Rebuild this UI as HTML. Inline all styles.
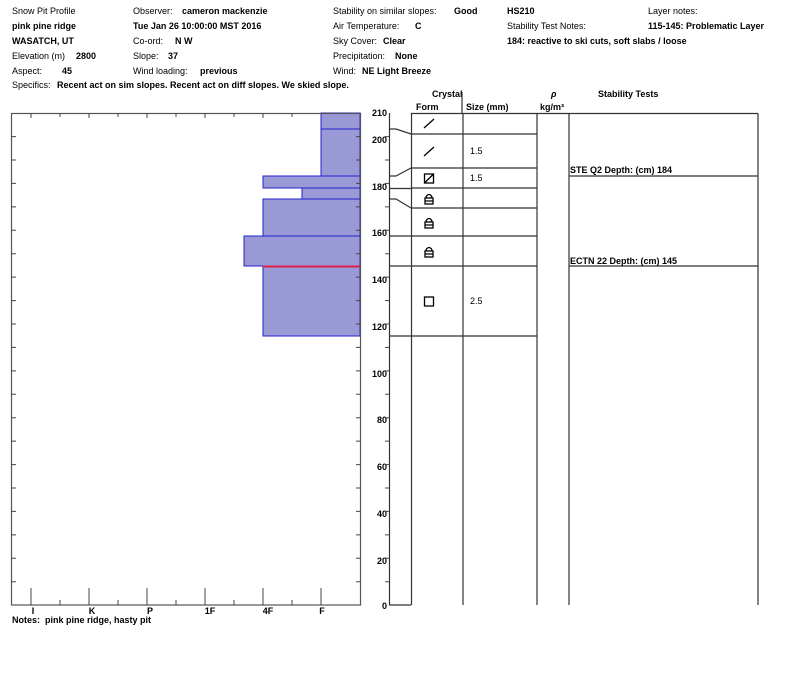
<!DOCTYPE html>
<html><head><meta charset="utf-8"><style>
body{margin:0;background:#fff;}
svg text{font-family:"Liberation Sans",sans-serif;font-size:9px;fill:#000;}
.b{font-weight:bold;}
</style></head><body>
<svg width="800" height="676" viewBox="0 0 800 676" xmlns="http://www.w3.org/2000/svg">
<!-- header -->
<text x="12" y="14" font-size="10">Snow Pit Profile</text>
<text x="12" y="29" class="b">pink pine ridge</text>
<text x="12" y="44" class="b">WASATCH, UT</text>
<text x="12" y="59">Elevation (m)</text><text x="76" y="59" class="b">2800</text>
<text x="12" y="74">Aspect:</text><text x="62" y="74" class="b">45</text>
<text x="12" y="88">Specifics:</text><text x="57" y="88" class="b">Recent act on sim slopes. Recent act on diff slopes. We skied slope.</text>
<text x="133" y="14">Observer:</text><text x="182" y="14" class="b">cameron mackenzie</text>
<text x="133" y="29" class="b">Tue Jan 26 10:00:00 MST 2016</text>
<text x="133" y="44">Co-ord:</text><text x="175" y="44" class="b">N  W</text>
<text x="133" y="59">Slope:</text><text x="168" y="59" class="b">37</text>
<text x="133" y="74">Wind loading:</text><text x="200" y="74" class="b">previous</text>
<text x="333" y="14">Stability on similar slopes:</text><text x="454" y="14" class="b">Good</text>
<text x="333" y="29">Air Temperature:</text><text x="415" y="29" class="b">C</text>
<text x="333" y="44">Sky Cover:</text><text x="383" y="44" class="b">Clear</text>
<text x="333" y="59">Precipitation:</text><text x="395" y="59" class="b">None</text>
<text x="333" y="74">Wind:</text><text x="362" y="74" class="b">NE Light Breeze</text>
<text x="507" y="14" class="b">HS210</text>
<text x="507" y="29">Stability Test Notes:</text>
<text x="507" y="44" class="b">184: reactive to ski cuts, soft slabs / loose</text>
<text x="648" y="14">Layer notes:</text>
<text x="648" y="29" class="b">115-145: Problematic Layer</text>

<!-- left chart -->
<g fill="#9999d6" stroke="#2222cc" stroke-width="1">
<rect x="321" y="113" width="39" height="16"/>
<rect x="321" y="129" width="39" height="47"/>
<rect x="263" y="176" width="97" height="12"/>
<rect x="302" y="188" width="58" height="11"/>
<rect x="263" y="199" width="97" height="37"/>
<rect x="244" y="236" width="116" height="30"/>
<rect x="263" y="266" width="97" height="70"/>
</g>
<line x1="263" y1="266.5" x2="360" y2="266.5" stroke="#e0204a" stroke-width="2"/>
<rect x="11.5" y="113.5" width="349" height="491.5" fill="none" stroke="#555" stroke-width="1.2"/>
<g stroke="#444" stroke-width="1">
<path d="M31 113v5M89 113v5M147 113v5M205 113v5M263 113v5M60 113v4M118 113v4M176 113v4M234 113v4M292 113v4"/>
<path d="M31 588v17M89 588v17M147 588v17M205 588v17M263 588v17M321 588v17M60 600v5M118 600v5M176 600v5M234 600v5M292 600v5"/>
<path d="M11 136.6h5M11 160h5M11 183.4h5M11 206.9h5M11 230.3h5M11 253.7h5M11 277.1h5M11 300.6h5M11 324h5M11 347.4h5M11 370.9h5M11 394.3h5M11 417.7h5M11 441.1h5M11 464.6h5M11 488h5M11 511.4h5M11 534.9h5M11 558.3h5M11 581.7h5"/>
<path d="M356 136.6h4M356 160h4M356 183.4h4M356 206.9h4M356 230.3h4M356 253.7h4M356 277.1h4M356 300.6h4M356 324h4M356 347.4h4M356 370.9h4M356 394.3h4M356 417.7h4M356 441.1h4M356 464.6h4M356 488h4M356 511.4h4M356 534.9h4M356 558.3h4M356 581.7h4"/>
</g>
<g class="b" text-anchor="middle">
<text x="33" y="614" class="b">I</text><text x="92" y="614" class="b">K</text><text x="150" y="614" class="b">P</text><text x="210" y="614" class="b">1F</text><text x="268" y="614" class="b">4F</text><text x="322" y="614" class="b">F</text>
</g>
<text x="12" y="623" class="b">Notes:</text><text x="45" y="623" class="b">pink pine ridge, hasty pit</text>

<!-- y axis labels -->
<g text-anchor="end">
<text x="387" y="116" class="b">210</text><text x="387" y="143" class="b">200</text><text x="387" y="190" class="b">180</text>
<text x="387" y="236" class="b">160</text><text x="387" y="283" class="b">140</text><text x="387" y="330" class="b">120</text>
<text x="387" y="377" class="b">100</text><text x="387" y="423" class="b">80</text><text x="387" y="470" class="b">60</text>
<text x="387" y="517" class="b">40</text><text x="387" y="564" class="b">20</text><text x="387" y="609" class="b">0</text>
</g>

<!-- right table -->
<text x="432" y="97" class="b">Crystal</text>
<text x="416" y="110" class="b">Form</text><text x="466" y="110" class="b">Size (mm)</text>
<text x="551" y="97" class="b" font-style="italic">ρ</text><text x="540" y="110" class="b">kg/m³</text>
<text x="598" y="97" class="b">Stability Tests</text>
<g stroke="#333" stroke-width="1.2" fill="none">
<path d="M389.5 113V605M411.5 113V605M463 113V605M537 113V605M569 113V605M389 605H411"/>
<path d="M411 113.5H758M758 113.5V605M462 92V113"/>
<path d="M411 134H537M411 168H537M411 188H537M411 208H537M411 236H537M411 266H537M411 336H537"/>
<path d="M569 176H758M569 266H758"/>
<path d="M389 129h7l15 5M389 176h7l15 -8M389 188.5H411M389 199h7l15 9M389 236H411M389 266H411M389 336H411"/>
</g>
<g stroke="#444" stroke-width="1">
<path d="M385 136.6h4M385 160h4M385 183.4h4M385 206.9h4M385 230.3h4M385 253.7h4M385 277.1h4M385 300.6h4M385 324h4M385 347.4h4M385 370.9h4M385 394.3h4M385 417.7h4M385 441.1h4M385 464.6h4M385 488h4M385 511.4h4M385 534.9h4M385 558.3h4M385 581.7h4"/>
</g>
<!-- form symbols -->
<g stroke="#000" stroke-width="1.3" fill="none">
<path d="M424 128l10-9M424 156l10-9"/>
<rect x="424.5" y="174" width="9" height="9"/><path d="M424.5 183l9-9"/>
<rect x="425" y="198" width="8" height="6"/><path d="M426 198a3 3.5 0 0 1 6 0M425 201h8"/>
<rect x="425" y="222" width="8" height="6"/><path d="M426 222a3 3.5 0 0 1 6 0M425 225h8"/>
<rect x="425" y="251" width="8" height="6"/><path d="M426 251a3 3.5 0 0 1 6 0M425 254h8"/>
<rect x="424.5" y="297" width="9" height="9"/>
</g>
<text x="470" y="154">1.5</text><text x="470" y="181">1.5</text><text x="470" y="304">2.5</text>
<text x="570" y="173" class="b">STE Q2 Depth: (cm) 184</text>
<text x="570" y="264" class="b">ECTN 22   Depth: (cm) 145</text>
</svg>
</body></html>
